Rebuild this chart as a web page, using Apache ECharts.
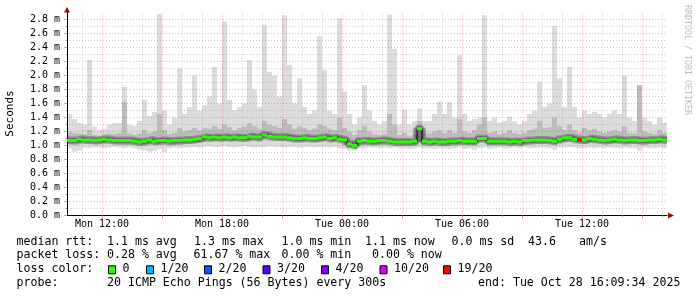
<!DOCTYPE html>
<html><head><meta charset="utf-8">
<script src="https://cdn.jsdelivr.net/npm/echarts@6/dist/echarts.min.js"></script>
<style>html,body{margin:0;padding:0;background:#fff}#c{width:697px;height:297px}</style>
</head><body><div id="c"></div>
<script>
// ---------------- data (hours since Mon 00:00, values in ms) ----------------
const startHour = 10.25;   // Mon 10:15
const stepHours = 0.25;    // one smoke column = 15 min
const medianMs = [
1.07,1.07,1.09,1.08,1.08,1.07,1.08,1.09,1.08,1.07,
1.07,1.07,1.07,1.06,1.05,1.06,1.08,1.06,1.07,1.07,
1.06,1.07,1.07,1.08,1.08,1.09,1.10,1.12,1.11,1.12,
1.11,1.12,1.11,1.12,1.11,1.11,1.13,1.12,1.12,1.15,
1.13,1.12,1.12,1.12,1.11,1.10,1.10,1.11,1.10,1.10,
1.11,1.12,1.10,1.11,1.09,1.08,1.02,1.00,1.06,1.07,
1.06,1.06,1.07,1.07,1.06,1.05,1.05,1.05,1.05,1.06,
1.24,1.06,1.05,1.06,1.05,1.05,1.06,1.06,1.07,1.06,
1.06,1.06,1.10,1.10,1.06,1.06,1.06,1.06,1.05,1.06,
1.05,1.07,1.07,1.08,1.08,1.08,1.07,1.06,1.09,1.11,
1.11,1.09,1.08,1.08,1.10,1.09,1.08,1.07,1.08,1.09,
1.08,1.07,1.08,1.08,1.07,1.07,1.08,1.08,1.09,1.08];
const maxMs = [
1.45,1.38,1.32,1.30,2.22,1.27,1.22,1.24,1.30,1.32,
1.32,1.84,1.30,1.28,1.35,1.65,1.42,1.48,2.88,1.50,
1.30,1.40,2.10,1.45,1.55,2.00,1.50,1.58,1.70,2.12,
1.60,2.77,1.65,1.50,1.55,1.60,2.22,1.80,1.55,2.72,
2.05,2.00,1.70,2.86,2.15,1.60,1.96,1.55,1.45,1.50,
2.56,2.08,1.50,1.45,2.81,1.77,1.45,1.30,1.40,1.86,
1.50,1.35,1.30,1.35,2.87,2.38,1.30,1.51,1.30,1.35,
1.53,1.35,1.35,1.45,1.63,1.45,1.62,1.40,2.29,1.45,
1.35,1.38,1.40,2.86,1.35,1.40,1.33,1.35,1.41,1.35,
1.30,1.35,1.45,1.50,1.91,1.55,1.60,2.71,1.96,1.55,
2.12,1.55,1.40,1.50,1.45,1.48,1.45,1.40,1.45,1.50,
1.45,2.00,1.40,1.35,1.86,1.40,1.35,1.30,1.40,1.33];
const minMs = [
0.96,0.91,0.93,0.97,0.96,0.97,0.97,0.96,0.97,0.98,
0.97,0.96,0.97,0.96,0.94,0.93,0.91,0.92,0.95,0.91,
0.96,0.97,0.96,0.97,0.97,0.98,0.97,0.98,0.99,0.98,
0.98,0.99,0.98,0.97,0.98,0.99,0.98,0.97,0.98,0.98,
0.99,0.98,0.98,0.97,0.98,0.98,0.97,0.98,0.98,0.97,
0.98,0.98,0.97,0.98,0.96,0.95,0.93,0.93,0.96,0.96,
0.97,0.97,0.96,0.97,0.96,0.97,0.96,0.96,0.95,0.96,
0.97,0.96,0.96,0.95,0.96,0.96,0.95,0.96,0.97,0.95,
0.96,0.94,0.96,0.97,0.95,0.96,0.97,0.96,0.96,0.97,
0.96,0.97,0.96,0.96,0.97,0.97,0.96,0.94,0.97,0.97,
0.98,0.97,0.96,0.96,0.97,0.96,0.97,0.96,0.97,0.97,
0.96,0.97,0.96,0.96,0.93,0.97,0.96,0.96,0.97,0.96];
const midLoMs = [
1.02,1.01,1.03,1.02,1.02,1.01,1.02,1.03,1.02,1.01,
1.01,1.01,1.01,1.00,0.99,1.00,1.02,1.00,1.01,1.01,
1.00,1.01,1.01,1.02,1.02,1.03,1.04,1.05,1.05,1.06,
1.05,1.06,1.05,1.06,1.05,1.05,1.06,1.06,1.05,1.07,
1.06,1.06,1.06,1.06,1.05,1.04,1.04,1.05,1.04,1.04,
1.05,1.06,1.04,1.05,1.03,1.01,0.97,0.95,1.00,1.01,
1.00,1.00,1.01,1.01,1.00,0.99,0.99,0.99,0.99,1.00,
1.05,1.00,0.99,1.00,0.99,0.99,1.00,1.00,1.01,1.00,
1.00,1.00,1.04,1.04,1.00,1.00,1.00,1.00,0.99,1.00,
0.99,1.01,1.01,1.02,1.02,1.02,1.01,1.00,1.03,1.05,
1.05,1.03,1.02,1.02,1.04,1.03,1.02,1.01,1.02,1.03,
1.02,1.01,1.02,1.02,1.01,1.01,1.02,1.02,1.03,1.02];
const midHiMs = [
1.20,1.18,1.17,1.16,1.22,1.15,1.14,1.16,1.17,1.16,
1.18,1.62,1.17,1.15,1.17,1.22,1.18,1.20,1.45,1.22,
1.16,1.18,1.25,1.20,1.22,1.25,1.22,1.25,1.24,1.28,
1.24,1.30,1.26,1.22,1.25,1.27,1.32,1.28,1.24,1.35,
1.30,1.28,1.25,1.38,1.30,1.24,1.27,1.25,1.22,1.24,
1.30,1.28,1.24,1.22,1.40,1.25,1.20,1.15,1.22,1.28,
1.20,1.16,1.15,1.16,1.45,1.30,1.15,1.18,1.14,1.16,
1.35,1.18,1.17,1.20,1.22,1.18,1.22,1.18,1.38,1.20,
1.18,1.22,1.30,1.40,1.18,1.20,1.16,1.18,1.22,1.18,
1.16,1.18,1.22,1.24,1.35,1.25,1.26,1.40,1.28,1.22,
1.30,1.22,1.18,1.25,1.22,1.24,1.20,1.18,1.20,1.22,
1.20,1.28,1.18,1.17,1.86,1.20,1.18,1.16,1.22,1.18];
const lossCount = [
0,0,0,0,0,0,0,0,0,0, 0,0,0,0,0,0,0,0,0,0, 0,0,0,0,0,0,0,0,0,0,
0,0,0,0,0,0,0,0,0,0, 0,0,0,0,0,0,0,0,0,0, 0,0,0,0,0,0,0,0,0,0,
0,0,0,0,0,0,0,0,0,0, 0,0,0,0,0,0,0,0,0,0, 0,0,0,0,0,0,0,0,0,0,
0,0,0,0,0,0,0,0,0,0, 0,0,19,0,0,0,0,0,0,0, 0,0,0,0,0,0,0,0,0,0];

const yMajorTicks = [0,0.2,0.4,0.6,0.8,1.0,1.2,1.4,1.6,1.8,2.0,2.2,2.4,2.6,2.8];
const yMinorTicks = [0.1,0.3,0.5,0.7,0.9,1.1,1.3,1.5,1.7,1.9,2.1,2.3,2.5,2.7];
const xLabelHours = [12,18,24,30,36];
const xLabelTexts = ['Mon 12:00','Mon 18:00','Tue 00:00','Tue 06:00','Tue 12:00'];
const xMajorHours = [12,15,18,21,24,27,30,33,36,39];
const xMinorHours = [11,13,14,16,17,19,20,22,23,25,26,28,29,31,32,34,35,37,38,40];

const lossLevels = [0,1,2,3,4,10,19];
const lossLabels = ['0','1/20','2/20','3/20','4/20','10/20','19/20'];
const rttTexts = ['median rtt:','1.1 ms avg','1.3 ms max','1.0 ms min','1.1 ms now','0.0 ms sd','43.6','am/s'];
const lossTexts = ['packet loss:','0.28 % avg','61.67 % max','0.00 % min','0.00 % now'];
const lossColorTitle = 'loss color:';
const probeTexts = ['probe:','20 ICMP Echo Pings (56 Bytes) every 300s','end: Tue Oct 28 16:09:34 2025'];
const yTitle = 'Seconds';
const watermark = 'RRDTOOL / TOBI OETIKER';

// ---------------- styles / layout ----------------
const lossColors = ['#26ff00','#00b8ff','#0059ff','#5e00ff','#7e00ff','#dd00ff','#ff0000'];
const MONO = '"DejaVu Sans Mono", monospace';
const legendFont = '11.6px ' + MONO;
const gridGray = 'rgba(140,140,140,0.45)';
const gridRed = 'rgba(255,0,0,0.32)';
const dotted = [1,2];
const rttX = [16.5,107,194,281.5,365,451.5,528,579];
const lossX = [16.5,107,193.5,281.5,372];
const boxX = [108,146,204,262.5,321,379.5,443];
const probeX = [16.5,107,478];
const rowY = [241.5,255,269.3,283.3];

const N = medianMs.length;
const smokeData = medianMs.map((m,i)=>[startHour+i*stepHours, minMs[i], maxMs[i], midLoMs[i], midHiMs[i]]);
const medData = medianMs.map((m,i)=>[startHour+i*stepHours, m, lossCount[i]]);
const stepLine = medianMs.map((m,i)=>[startHour+i*stepHours, m]);
stepLine.push([startHour+N*stepHours, medianMs[N-1]]);

function smokeItem(params, api){
  const t0 = api.value(0), t1 = t0 + stepHours;
  const a = api.coord([t0, api.value(2)]);
  const b = api.coord([t1, api.value(1)]);
  const c = api.coord([t0, api.value(4)]);
  const d = api.coord([t1, api.value(3)]);
  return {type:'group', children:[
    {type:'rect', shape:{x:a[0], y:a[1], width:b[0]-a[0], height:b[1]-a[1]}, style:{fill:'#dcdcdc'}},
    {type:'rect', shape:{x:c[0], y:c[1], width:d[0]-c[0], height:d[1]-c[1]}, style:{fill:'#bcbcbc'}}
  ]};
}
function medItem(params, api){
  const t0 = api.value(0);
  const p = api.coord([t0, api.value(1)]);
  const q = api.coord([t0+stepHours, api.value(1)]);
  const loss = api.value(2);
  let k = 0; lossLevels.forEach((l,j)=>{ if (loss >= l) k = j; });
  return {type:'rect', shape:{x:p[0], y:p[1]-1.5, width:q[0]-p[0], height:3}, style:{fill:lossColors[k]}};
}

const graphics = [];
function txt(s, x, y, extra){ graphics.push(Object.assign({type:'text', x:x, y:y, style:{text:s, font:legendFont, fill:'#000', verticalAlign:'middle', align:'left'}}, extra||{})); }
rttTexts.forEach((s,i)=>txt(s, rttX[i], rowY[0]));
lossTexts.forEach((s,i)=>txt(s, lossX[i], rowY[1]));
txt(lossColorTitle, 16.5, rowY[2]);
lossLabels.forEach((s,i)=>{
  graphics.push({type:'rect', shape:{x:boxX[i]+0.5, y:rowY[2]-3.5, width:7, height:8}, style:{fill:lossColors[i], stroke:'#000', lineWidth:1}});
  txt(s, boxX[i]+14.5, rowY[2]);
});
probeTexts.forEach((s,i)=>txt(s, probeX[i], rowY[3]));
graphics.push({type:'text', x:10.5, y:113.5, rotation:Math.PI/2, style:{text:yTitle, font:'11px '+MONO, fill:'#000', align:'center', verticalAlign:'middle'}});
graphics.push({type:'text', x:687, y:60, rotation:-Math.PI/2, style:{text:watermark, font:'8.3px '+MONO, fill:'#bdbdbd', align:'center', verticalAlign:'middle'}});
graphics.push({type:'polygon', shape:{points:[[64,12.5],[70,12.5],[67,7]]}, style:{fill:'#8b1010'}, z:20});
graphics.push({type:'polygon', shape:{points:[[668,212.5],[668,218.5],[674,215.5]]}, style:{fill:'#8b1010'}, z:20});

const chart = echarts.init(document.getElementById('c'), null, {renderer:'canvas'});
chart.setOption({
  animation:false,
  backgroundColor:'#fff',
  grid:{left:67, right:30, top:12.5, bottom:81.5, containLabel:false},
  xAxis:[
    {type:'value', min:10.25, max:40.25, position:'bottom', z:5,
     axisLine:{show:true, onZero:false, lineStyle:{color:'#000', width:1}},
     axisTick:{show:true, customValues:xMinorHours, length:2, lineStyle:{color:'#bbb'}},
     axisLabel:{show:false},
     splitLine:{show:true, lineStyle:{color:gridGray, type:dotted, width:1}}},
    {type:'value', min:10.25, max:40.25, position:'bottom', z:5,
     axisLine:{show:false, onZero:false},
     axisTick:{show:true, customValues:xMajorHours, length:3, lineStyle:{color:'#e99'}},
     axisLabel:{show:true, customValues:xLabelHours, margin:4,
       formatter:v=>xLabelTexts[xLabelHours.indexOf(Math.round(v))] || '',
       fontFamily:MONO, fontSize:10, color:'#000'},
     splitLine:{show:true, lineStyle:{color:gridRed, type:dotted, width:1}}}
  ],
  yAxis:[
    {type:'value', min:0, max:2.9, position:'left', z:5,
     axisLine:{show:true, onZero:false, lineStyle:{color:'#000', width:1}},
     axisTick:{show:true, customValues:yMajorTicks, length:3, lineStyle:{color:'#e99'}},
     axisLabel:{show:true, customValues:yMajorTicks, margin:7,
       formatter:v=>v.toFixed(1)+' m', fontFamily:MONO, fontSize:10, color:'#000'},
     splitLine:{show:true, lineStyle:{color:gridRed, type:dotted, width:1}}},
    {type:'value', min:0, max:2.9, position:'left', z:5,
     axisLine:{show:false, onZero:false},
     axisTick:{show:true, customValues:yMinorTicks, length:2, lineStyle:{color:'#bbb'}},
     axisLabel:{show:false},
     splitLine:{show:true, lineStyle:{color:gridGray, type:dotted, width:1}}}
  ],
  series:[
    {type:'custom', name:'smoke', xAxisIndex:0, yAxisIndex:0, z:2, clip:true,
     renderItem:smokeItem, encode:{x:0, y:[1,2,3,4]}, data:smokeData},
    {type:'line', name:'dark', xAxisIndex:0, yAxisIndex:0, z:3, step:'end', symbol:'none',
     lineStyle:{color:'rgba(70,70,70,0.38)', width:8}, data:stepLine},
    {type:'line', name:'darker', xAxisIndex:0, yAxisIndex:0, z:3, step:'end', symbol:'none',
     lineStyle:{color:'rgba(40,40,40,0.35)', width:5}, data:stepLine},
    {type:'line', name:'edge', xAxisIndex:0, yAxisIndex:0, z:9, step:'end', symbol:'none',
     lineStyle:{color:'#000', width:1}, data:stepLine},
    {type:'custom', name:'median', xAxisIndex:0, yAxisIndex:0, z:10, clip:true,
     renderItem:medItem, encode:{x:0, y:1}, data:medData}
  ],
  graphic:graphics
});
</script></body></html>
